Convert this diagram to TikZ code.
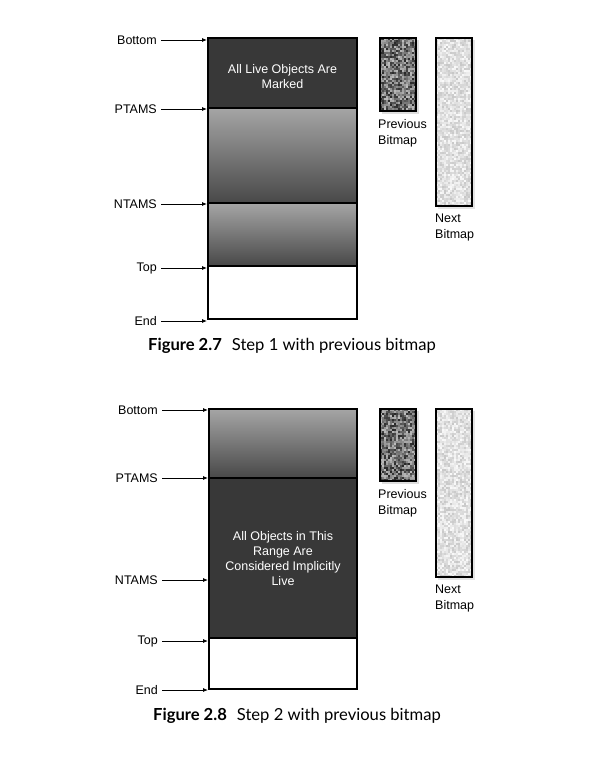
\documentclass[tikz,border=0pt]{standalone}
\usepackage{fontspec}
\setmainfont{Liberation Sans}
\newfontfamily\capfont{Lato}
\usetikzlibrary{arrows.meta}
\definecolor{darkfill}{RGB}{56,56,56}
\definecolor{gtop}{RGB}{165,165,165}
\definecolor{gbot}{RGB}{72,72,72}
\tikzset{
  lbl/.style={anchor=east,inner sep=0pt,font=\fontsize{12.5}{15}\selectfont},
  arr/.style={-{Latex[length=5pt,width=4pt]},line width=0.8pt},
  frame/.style={draw=black,line width=2pt},
  inner/.style={text=white,align=center,font=\fontsize{12.5}{15}\selectfont},
  bmlbl/.style={anchor=north west,inner sep=0pt,align=left,font=\fontsize{12.5}{16}\selectfont},
  figcap/.style={inner sep=0pt,font=\capfont\fontsize{16.6}{20}\selectfont},
}
\newcommand\noisefill[6]{% x0 y0 ncols nrows min max (percent black)
  \foreach \i in {0,...,\numexpr#3-1\relax}{
    \foreach \j in {0,...,\numexpr#4-1\relax}{
      \pgfmathsetmacro\gv{#5+rnd*(#6-#5)}
      \fill[black!\gv!white] (#1+2*\i,#2+2*\j) rectangle ++(2,2);
    }
  }
}
\begin{document}
\begin{tikzpicture}[x=1pt,y=-1pt]
\useasboundingbox[fill=white] (0,0) rectangle (592,757);
\pgfmathsetseed{7}
% ================= Figure 2.7 =================
\fill[darkfill] (208,38) rectangle (357,108);
\shade[top color=gtop,bottom color=gbot] (208,108) rectangle (357,203);
\shade[top color=gtop,bottom color=gbot] (208,203) rectangle (357,266);
\draw[frame] (208,38) rectangle (357,319);
\draw[line width=1.6pt] (208,108) -- (357,108);
\draw[line width=1.6pt] (208,203) -- (357,203);
\draw[line width=1.6pt] (208,266) -- (357,266);
\node[inner] (t1) at (282.5,77) {All Live Objects Are\\Marked};
\coordinate (a1b) at (207,40);
\coordinate (a1p) at (207,109);
\coordinate (a1n) at (207,204);
\coordinate (a1t) at (207,268);
\coordinate (a1e) at (207,321);
\node[lbl] (l1b) at (157,40) {Bottom};
\node[lbl] (l1p) at (157,109) {PTAMS};
\node[lbl] (l1n) at (157,204) {NTAMS};
\node[lbl] (l1t) at (157,268) {Top};
\node[lbl] (l1e) at (157,321) {End};
\foreach \n in {b,p,n,t,e}{\draw[arr] ([xshift=4pt]l1\n.east) -- (a1\n);}
% bitmaps
\fill[black!25,opacity=0.5] (382,40) rectangle (419,114);
\noisefill{380}{38}{18}{36}{25}{85}
\draw[line width=1.8pt] (380,38) rectangle (416,111);
\fill[black!20,opacity=0.5] (438,40) rectangle (475,209);
\noisefill{436}{38}{18}{84}{2}{22}
\draw[line width=1.8pt] (436,38) rectangle (472,206);
\node[bmlbl] (p1) at (378,119) {Previous\\Bitmap};
\node[bmlbl] (n1) at (435,214) {Next\\Bitmap};
\node[figcap] (c1) at (292,346) {\textbf{Figure 2.7}\hspace{0.6em}Step 1 with previous bitmap};
% ================= Figure 2.8 =================
\shade[top color=gtop,bottom color=gbot] (209,409) rectangle (357,478);
\fill[darkfill] (209,478) rectangle (357,638);
\draw[frame] (209,409) rectangle (357,689);
\draw[line width=1.6pt] (209,478) -- (357,478);
\draw[line width=1.6pt] (209,638) -- (357,638);
\node[inner] (t2) at (283,559) {All Objects in This\\Range Are\\Considered Implicitly\\Live};
\coordinate (a2b) at (208,410);
\coordinate (a2p) at (208,478);
\coordinate (a2n) at (208,580);
\coordinate (a2t) at (208,641);
\coordinate (a2e) at (208,690);
\node[lbl] (l2b) at (158,410) {Bottom};
\node[lbl] (l2p) at (158,478) {PTAMS};
\node[lbl] (l2n) at (158,580) {NTAMS};
\node[lbl] (l2t) at (158,641) {Top};
\node[lbl] (l2e) at (158,690) {End};
\foreach \n in {b,p,n,t,e}{\draw[arr] ([xshift=4pt]l2\n.east) -- (a2\n);}
\fill[black!25,opacity=0.5] (382,411) rectangle (419,484);
\noisefill{380}{409}{18}{36}{25}{85}
\draw[line width=1.8pt] (380,409) rectangle (416,481);
\fill[black!20,opacity=0.5] (438,411) rectangle (475,580);
\noisefill{436}{409}{18}{84}{2}{22}
\draw[line width=1.8pt] (436,409) rectangle (472,577);
\node[bmlbl] (p2) at (378,489) {Previous\\Bitmap};
\node[bmlbl] (n2) at (435,585) {Next\\Bitmap};
\node[figcap] (c2) at (297,716) {\textbf{Figure 2.8}\hspace{0.6em}Step 2 with previous bitmap};
\end{tikzpicture}
\end{document}
